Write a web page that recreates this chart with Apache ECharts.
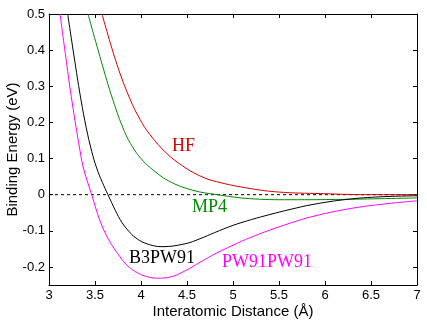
<!DOCTYPE html>
<html>
<head>
<meta charset="utf-8">
<script src="https://cdn.jsdelivr.net/npm/echarts@6/dist/echarts.min.js"></script>
<style>html,body{margin:0;padding:0;background:#fff}#c{width:427px;height:322px}</style>
</head>
<body>
<div id="c"></div>
<script>
// Data
const xTicks = [3, 3.5, 4, 4.5, 5, 5.5, 6, 6.5, 7];
const yTicks = [-0.2, -0.1, 0, 0.1, 0.2, 0.3, 0.4, 0.5];

const hfX = [3.576, 3.739, 3.88, 3.99, 4.098, 4.28, 4.45, 4.64, 4.82, 5.185, 5.51, 5.95, 6.46, 7.0];
const hfY = [0.5, 0.36, 0.265, 0.208, 0.166, 0.114, 0.08, 0.052, 0.036, 0.017, 0.007, 0.003, 0.0, 0.0];

const mp4X = [3.424, 3.565, 3.696, 3.82, 3.913, 4.0, 4.10, 4.3, 4.565, 4.83, 5.18, 5.62, 6.2, 7.0];
const mp4Y = [0.5, 0.372, 0.261, 0.175, 0.13, 0.10, 0.075, 0.038, 0.012, 0.0, -0.011, -0.014, -0.013, -0.009];

const b3X = [3.203, 3.283, 3.348, 3.405, 3.464, 3.518, 3.58, 3.641, 3.72, 3.793, 3.87, 3.935, 4.043, 4.228, 4.478, 4.641, 4.8, 5.0, 5.2, 5.4, 5.62, 5.87, 6.24, 6.6, 7.0];
const b3Y = [0.5, 0.365, 0.262, 0.185, 0.12, 0.074, 0.034, 0.0, -0.043, -0.077, -0.102, -0.118, -0.134, -0.144, -0.136, -0.122, -0.105, -0.085, -0.069, -0.055, -0.041, -0.027, -0.013, -0.006, -0.003];

const pwX = [3.12, 3.196, 3.25, 3.337, 3.38, 3.464, 3.554, 3.65, 3.772, 3.86, 3.967, 4.07, 4.174, 4.315, 4.478, 4.65, 4.826, 5.0, 5.185, 5.4, 5.62, 5.87, 6.24, 6.6, 7.0];
const pwY = [0.5, 0.355, 0.258, 0.122, 0.068, 0.0, -0.072, -0.125, -0.172, -0.198, -0.217, -0.227, -0.231, -0.228, -0.211, -0.186, -0.161, -0.14, -0.119, -0.098, -0.079, -0.06, -0.04, -0.027, -0.017];

const zeroX = [3, 7];
const zeroY = [0, 0];

const seriesNames = ['HF', 'MP4', 'B3PW91', 'PW91PW91'];
const seriesColors = ['#d40000', '#008a00', '#000000', '#ff00ff'];

const zip = (xs, ys) => xs.map((x, i) => [x, ys[i]]);
const fmt = v => String(+v.toFixed(2));

const chart = echarts.init(document.getElementById('c'), null, {renderer: 'canvas'});
const axisFont = {fontFamily: 'Liberation Sans', fontSize: 13, color: '#000'};
const lineCommon = (name, xs, ys, color) => ({
  name, type: 'line', data: zip(xs, ys), showSymbol: false, smooth: 0.4,
  clip: true, lineStyle: {color, width: 1}, itemStyle: {color}, z: 3
});

chart.setOption({
  animation: false,
  backgroundColor: '#fff',
  grid: {left: 49, right: 10, top: 14, bottom: 37, outerBoundsMode: 'none', containLabel: false},
  xAxis: [{
    type: 'value', min: 3, max: 7, interval: 0.5,
    name: 'Interatomic Distance (Å)', nameLocation: 'middle', nameGap: 19, nameMoveOverlap: false,
    nameTextStyle: {fontFamily: 'Liberation Sans', fontSize: 15, color: '#000'},
    axisLine: {show: true, onZero: false, lineStyle: {color: '#000', width: 1}},
    axisTick: {show: true, inside: true, length: 4, lineStyle: {color: '#000'}, customValues: xTicks},
    axisLabel: Object.assign({margin: 4, formatter: fmt, customValues: xTicks}, axisFont),
    splitLine: {show: false}
  }, {
    type: 'value', min: 3, max: 7, interval: 0.5, position: 'top',
    axisLine: {show: true, onZero: false, lineStyle: {color: '#000', width: 1}},
    axisTick: {show: true, inside: true, length: 4, lineStyle: {color: '#000'}, customValues: xTicks},
    axisLabel: {show: false},
    splitLine: {show: false}
  }],
  yAxis: [{
    type: 'value', min: -0.25, max: 0.5,
    name: 'Binding Energy (eV)', nameLocation: 'middle', nameGap: 29, nameMoveOverlap: false,
    nameTextStyle: {fontFamily: 'Liberation Sans', fontSize: 15, color: '#000'},
    axisLine: {show: true, onZero: false, lineStyle: {color: '#000', width: 1}},
    axisTick: {show: true, inside: true, length: 4, lineStyle: {color: '#000'}, customValues: yTicks},
    axisLabel: Object.assign({margin: 4, formatter: fmt, customValues: yTicks}, axisFont),
    splitLine: {show: false}
  }, {
    type: 'value', min: -0.25, max: 0.5, position: 'right',
    axisLine: {show: true, onZero: false, lineStyle: {color: '#000', width: 1}},
    axisTick: {show: true, inside: true, length: 4, lineStyle: {color: '#000'}, customValues: yTicks},
    axisLabel: {show: false},
    splitLine: {show: false}
  }],
  series: [
    {name: 'zero', type: 'line', data: zip(zeroX, zeroY), showSymbol: false,
     lineStyle: {color: '#000', width: 1, type: [3, 3]}, z: 2},
    lineCommon(seriesNames[0], hfX, hfY, seriesColors[0]),
    lineCommon(seriesNames[1], mp4X, mp4Y, seriesColors[1]),
    lineCommon(seriesNames[2], b3X, b3Y, seriesColors[2]),
    lineCommon(seriesNames[3], pwX, pwY, seriesColors[3])
  ],
  graphic: [
    {type: 'text', x: 183.5, y: 146, style: {text: seriesNames[0], fill: seriesColors[0], font: '18px "Liberation Serif"', align: 'center', verticalAlign: 'middle'}},
    {type: 'text', x: 209.5, y: 207.5, style: {text: seriesNames[1], fill: seriesColors[1], font: '18px "Liberation Serif"', align: 'center', verticalAlign: 'middle'}},
    {type: 'text', x: 162, y: 258.5, style: {text: seriesNames[2], fill: seriesColors[2], font: '18px "Liberation Serif"', align: 'center', verticalAlign: 'middle'}},
    {type: 'text', x: 267, y: 262.5, style: {text: seriesNames[3], fill: seriesColors[3], font: '18px "Liberation Serif"', align: 'center', verticalAlign: 'middle'}}
  ]
});
</script>
</body>
</html>
